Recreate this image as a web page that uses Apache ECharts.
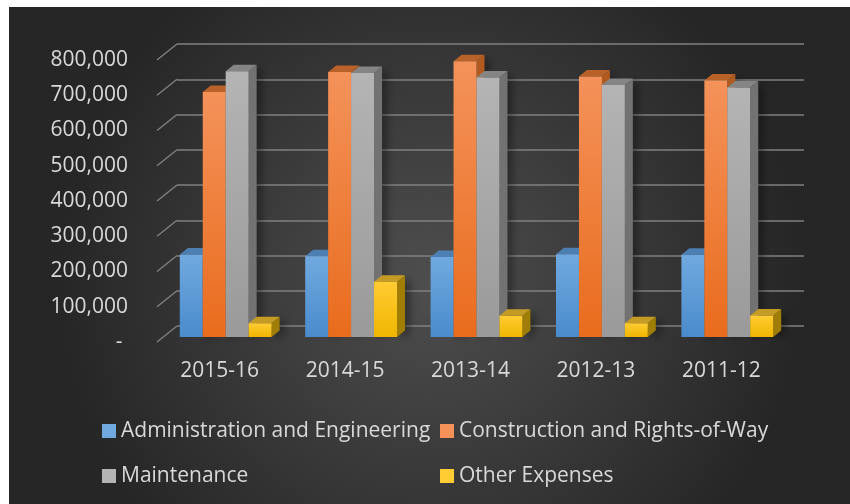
<!DOCTYPE html>
<html>
<head>
<meta charset="utf-8">
<script src="https://cdn.jsdelivr.net/npm/echarts@6/dist/echarts.min.js"></script>
<style>
  html, body { margin: 0; padding: 0; background: #ffffff; }
  #main { position: absolute; left: 9px; top: 7px; width: 841px; height: 497px; }
</style>
</head>
<body>
<div id="main"></div>
<script>
// chart data
var years = ['2015-16', '2014-15', '2013-14', '2012-13', '2011-12'];
var seriesNames = ['Administration and Engineering', 'Construction and Rights-of-Way', 'Maintenance', 'Other Expenses'];
var adminEng = [234000, 229000, 227000, 235000, 233000];
var construction = [695000, 752000, 782000, 739000, 728000];
var maintenance = [754000, 749000, 736000, 715000, 708000];
var otherExp = [39000, 157000, 60000, 39000, 61000];
var yTicks = [0, 100000, 200000, 300000, 400000, 500000, 600000, 700000, 800000];

// face colours: front top, front bottom, top face, side face
var palette = [
    ['#70a9df', '#4a8bcc', '#4e7fb2', '#3d6b9c'],
    ['#f4925a', '#e96c1d', '#b8622a', '#b05a1f'],
    ['#b4b4b4', '#9a9a9a', '#858585', '#727272'],
    ['#ffcc33', '#efb600', '#c49c25', '#a07d05']
];

var font = '"Open Sans", sans-serif';
var barShift = [6, -5];     // bars sit a little behind the front plane
var depth = [8, -6.5];      // bar thickness
var wall = [20, -16];       // front plane -> back wall

var myChart = echarts.init(document.getElementById('main'));

function makeBarSeries(idx, values) {
    var col = palette[idx];
    return {
        name: seriesNames[idx],
        type: 'custom',
        xAxisIndex: 0,
        yAxisIndex: 0,
        itemStyle: { color: col[0] },
        encode: { x: 0, y: 1 },
        data: values.map(function (v, i) { return [i, v]; }),
        renderItem: function (params, api) {
            var base = api.coord([api.value(0), 0]);
            var top = api.coord([api.value(0), api.value(1)]);
            var catW = api.size([1, 0])[0];
            var bw = catW * 0.183;
            var x0 = base[0] + barShift[0] + (idx - 2) * bw;
            var x1 = x0 + bw;
            var yb = base[1] + barShift[1];
            var yt = top[1] + barShift[1];
            var dx = depth[0], dy = depth[1];
            return {
                type: 'group',
                children: [
                    {
                        type: 'polygon',
                        shape: { points: [[x1, yt], [x1 + dx, yt + dy], [x1 + dx, yb + dy], [x1, yb]] },
                        style: {
                            fill: col[3],
                            shadowBlur: 8, shadowColor: 'rgba(0,0,0,0.45)',
                            shadowOffsetX: 4, shadowOffsetY: 2
                        }
                    },
                    {
                        type: 'polygon',
                        shape: { points: [[x0, yt], [x0 + dx, yt + dy], [x1 + dx, yt + dy], [x1, yt]] },
                        style: { fill: col[2] }
                    },
                    {
                        type: 'rect',
                        shape: { x: x0, y: yt, width: bw, height: yb - yt },
                        style: {
                            fill: new echarts.graphic.LinearGradient(0, 0, 0, 1, [
                                { offset: 0, color: col[0] },
                                { offset: 1, color: col[1] }
                            ])
                        }
                    }
                ]
            };
        }
    };
}

var legendText = { color: '#d9d9d9', fontSize: 21, lineHeight: 22, fontFamily: font };

var option = {
    backgroundColor: {
        type: 'radial', x: 0.5, y: 0.55, r: 0.75,
        colorStops: [
            { offset: 0, color: '#4e4e4e' },
            { offset: 1, color: '#262626' }
        ]
    },
    animation: false,
    textStyle: { fontFamily: font },
    grid: [
        { left: 148, top: 53, width: 627, height: 282 },
        { left: 168, top: 37, width: 627, height: 282 }
    ],
    xAxis: [
        {
            gridIndex: 0, type: 'category', data: years,
            axisLine: { show: false }, axisTick: { show: false },
            axisLabel: { color: '#d9d9d9', fontSize: 21, margin: 19, fontFamily: font }
        },
        {
            gridIndex: 1, type: 'category', data: years, show: false
        }
    ],
    yAxis: [
        {
            gridIndex: 0, type: 'value', min: 0, max: 800000, interval: 100000,
            axisLine: { show: false }, axisTick: { show: false },
            splitLine: { show: false },
            axisLabel: {
                color: '#d9d9d9', fontSize: 21, margin: 29, fontFamily: font,
                formatter: function (v) { return v === 0 ? '- ' : v.toLocaleString('en-US'); }
            }
        },
        {
            gridIndex: 1, type: 'value', min: 0, max: 800000, interval: 100000,
            axisLine: { show: false }, axisTick: { show: false },
            axisLabel: { show: false },
            splitLine: { show: true, lineStyle: { color: '#808080', width: 1.5 } }
        }
    ],
    legend: [
        {
            data: [seriesNames[0], seriesNames[2]],
            orient: 'vertical', left: 93, top: 413, padding: 0,
            icon: 'rect', itemWidth: 14, itemHeight: 14, itemGap: 23,
            textStyle: legendText
        },
        {
            data: [seriesNames[1], seriesNames[3]],
            orient: 'vertical', left: 431, top: 413, padding: 0,
            icon: 'rect', itemWidth: 14, itemHeight: 14, itemGap: 23,
            textStyle: legendText
        }
    ],
    series: [
        {
            type: 'custom',
            name: 'wallLinks',
            xAxisIndex: 0,
            yAxisIndex: 0,
            silent: true,
            encode: { x: 0, y: 1 },
            data: yTicks.map(function (v) { return [0, v]; }),
            renderItem: function (params, api) {
                var p = api.coord([0, api.value(1)]);
                var x = params.coordSys.x;
                return {
                    type: 'line',
                    shape: { x1: x, y1: p[1], x2: x + wall[0], y2: p[1] + wall[1] },
                    style: { stroke: '#808080', lineWidth: 1.5 }
                };
            }
        },
        makeBarSeries(0, adminEng),
        makeBarSeries(1, construction),
        makeBarSeries(2, maintenance),
        makeBarSeries(3, otherExp)
    ]
};

myChart.setOption(option);
</script>
</body>
</html>
